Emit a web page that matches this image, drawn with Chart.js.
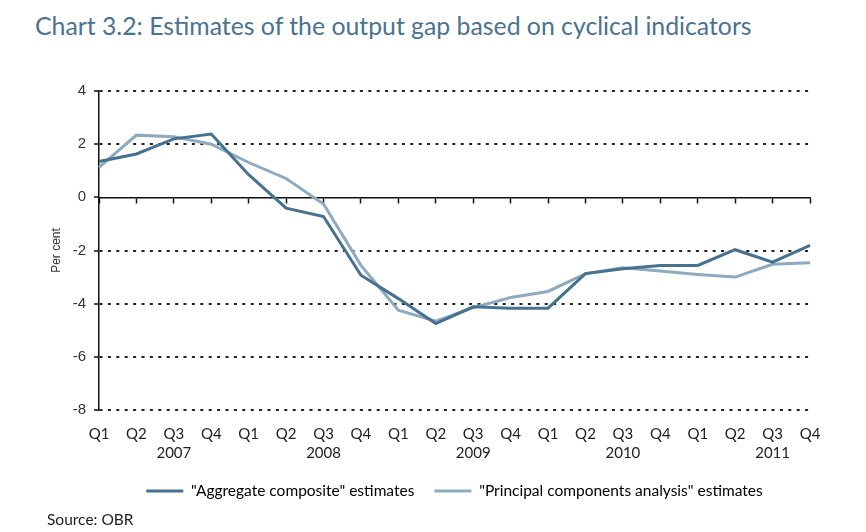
<!DOCTYPE html>
<html>
<head>
<meta charset="utf-8">
<script src="https://cdn.jsdelivr.net/npm/chart.js@4/dist/chart.umd.min.js"></script>
<style>
  html, body { margin: 0; padding: 0; background: #fff; }
  #wrap { position: relative; width: 866px; height: 532px; }
  #title { position: absolute; left: 35px; top: 11px; font: 24.8px Lato, sans-serif; color: #4a7391; white-space: nowrap; }
  #source { position: absolute; left: 47px; top: 510px; font: 15.5px Lato, sans-serif; color: #222; }
  canvas { position: absolute; left: 0; top: 0; }
</style>
</head>
<body>
<div id="wrap">
  <div id="title">Chart 3.2: Estimates of the output gap based on cyclical indicators</div>
  <canvas id="gap-chart" width="866" height="532"></canvas>
  <div id="source">Source: OBR</div>
</div>
<script>
// 季度標籤，年份放在 Q3 下方
const quarterLabels = [
  'Q1', 'Q2', ['Q3', '2007'], 'Q4',
  'Q1', 'Q2', ['Q3', '2008'], 'Q4',
  'Q1', 'Q2', ['Q3', '2009'], 'Q4',
  'Q1', 'Q2', ['Q3', '2010'], 'Q4',
  'Q1', 'Q2', ['Q3', '2011'], 'Q4'
];
const aggregateValues = [1.35, 1.63, 2.2, 2.38, 0.85, -0.41, -0.72, -2.93, -3.81, -4.75,
  -4.12, -4.17, -4.17, -2.87, -2.69, -2.56, -2.56, -1.97, -2.44, -1.81];
const pcaValues = [1.13, 2.34, 2.28, 2.0, 1.31, 0.71, -0.25, -2.56, -4.25, -4.66,
  -4.15, -3.77, -3.54, -2.87, -2.65, -2.77, -2.9, -3.0, -2.52, -2.46];
const seriesNames = ['"Aggregate composite" estimates', '"Principal components analysis" estimates'];
const seriesColors = ['#46728f', '#8eaac0'];
const yTicks = [4, 2, 0, -2, -4, -6, -8];

const axisFont = { family: 'Lato, sans-serif', size: 15, lineHeight: 1.27 };
const legendFont = { family: 'Lato, sans-serif', size: 15.5 };

// 圖例整體往右移，對齊原圖位置
const legendShift = {
  id: 'legendShift',
  afterLayout(chart) {
    if (chart.legend) {
      chart.legend.left += 27;
      chart.legend.right += 27;
    }
  }
};

const ctx = document.getElementById('gap-chart').getContext('2d');
new Chart(ctx, {
  type: 'line',
  data: {
    labels: quarterLabels,
    datasets: [
      { label: seriesNames[0], data: aggregateValues, borderColor: seriesColors[0], backgroundColor: seriesColors[0], borderWidth: 3, pointRadius: 0, tension: 0 },
      { label: seriesNames[1], data: pcaValues, borderColor: seriesColors[1], backgroundColor: seriesColors[1], borderWidth: 3, pointRadius: 0, tension: 0 }
    ]
  },
  plugins: [legendShift],
  options: {
    responsive: false,
    animation: false,
    layout: { padding: { left: 45, right: 56, top: 91, bottom: 23.25 } },
    plugins: {
      tooltip: { enabled: false },
      legend: {
        position: 'bottom',
        labels: {
          boxWidth: 37,
          boxHeight: 3,
          padding: 20,
          color: '#222',
          font: legendFont,
          generateLabels(chart) {
            return chart.data.datasets.map((ds, i) => ({
              text: ds.label,
              fillStyle: ds.borderColor,
              strokeStyle: ds.borderColor,
              lineWidth: 0,
              hidden: false,
              datasetIndex: i
            }));
          }
        }
      }
    },
    scales: {
      x: {
        type: 'category',
        position: { y: 0 },
        ticks: { display: false },
        grid: { drawOnChartArea: false, drawTicks: true, tickLength: 5, tickColor: '#111', tickWidth: 1.5 },
        border: { display: true, color: '#111', width: 1.5 }
      },
      xb: {
        type: 'category',
        position: 'bottom',
        grid: { display: false, drawTicks: false },
        border: { display: false },
        ticks: { autoSkip: false, maxRotation: 0, padding: 15, color: '#222', font: axisFont },
        afterFit(scale) { scale.height = 53.25; }
      },
      y: {
        min: -8,
        max: 4,
        afterBuildTicks(scale) { scale.ticks = yTicks.map(v => ({ value: v })); },
        ticks: { color: '#333', padding: 8, font: { family: '"Liberation Sans", Arial, sans-serif', size: 15 } },
        title: { display: true, text: 'Per cent', color: '#333', font: { family: '"Liberation Sans", Arial, sans-serif', size: 12 } },
        grid: {
          color: c => (c.tick && c.tick.value === 0 ? 'rgba(0,0,0,0)' : '#222'),
          lineWidth: 2,
          tickLength: 5,
          tickColor: '#111',
          tickWidth: 1.5
        },
        border: { display: true, color: '#111', width: 1.5, dash: [3, 5.4] },
        afterFit(scale) { scale.width = 54; }
      }
    }
  }
});
</script>
</body>
</html>
